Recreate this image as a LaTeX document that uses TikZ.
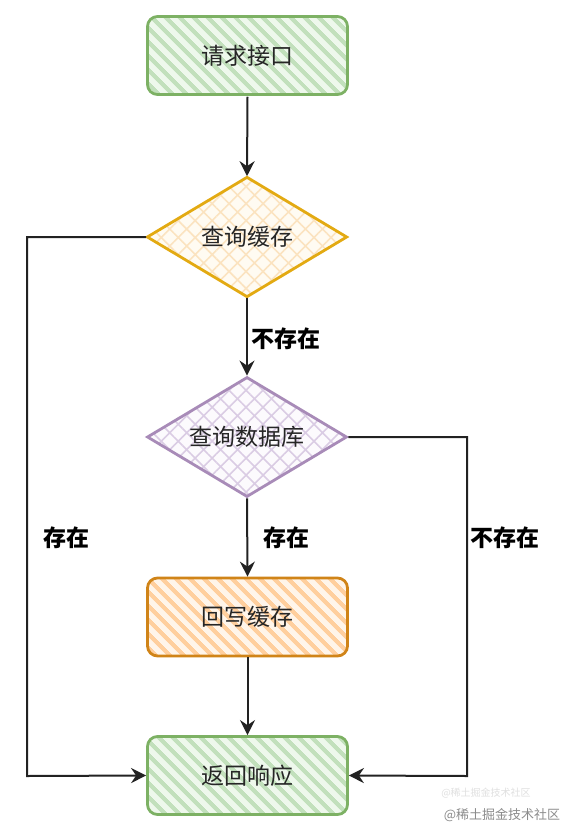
\documentclass[tikz,border=0pt]{standalone}
\usepackage{fontspec}
\setmainfont{Noto Sans CJK SC}
\usetikzlibrary{shapes.geometric,patterns.meta,arrows.meta}
\definecolor{gstroke}{HTML}{7DB164}
\definecolor{gfill}{HTML}{C2E0BC}
\definecolor{gback}{HTML}{EEF8EC}
\definecolor{ystroke}{HTML}{E3AA12}
\definecolor{yfill}{HTML}{FBE3C0}
\definecolor{yback}{HTML}{FFFBF2}
\definecolor{pstroke}{HTML}{A88BB8}
\definecolor{pfill}{HTML}{DACCE4}
\definecolor{pback}{HTML}{FCFAFD}
\definecolor{ostroke}{HTML}{D08418}
\definecolor{ofill}{HTML}{FFCF9E}
\definecolor{oback}{HTML}{FFF5EA}
\definecolor{line}{HTML}{222222}
\definecolor{txt}{HTML}{262626}
\tikzset{
  boxbase/.style={rounded corners=10pt, line width=2.8pt, minimum width=200pt, minimum height=78pt, inner sep=0pt, font=\fontsize{23}{27}\selectfont, text=txt},
  greenbox/.style={boxbase, draw=gstroke, preaction={fill=gback}, pattern={Lines[angle=-45,distance=10.5pt,line width=4.5pt]}, pattern color=gfill},
  orangebox/.style={boxbase, draw=ostroke, preaction={fill=oback}, pattern={Lines[angle=-45,distance=10.5pt,line width=4.5pt]}, pattern color=ofill},
  decbase/.style={diamond, line width=2.8pt, minimum width=200pt, minimum height=120pt, inner sep=0pt, text height=0pt, text depth=0pt, font=\fontsize{23}{27}\selectfont, text=txt},
  yellowdec/.style={decbase, draw=ystroke, preaction={fill=yback}, pattern={Hatch[angle=45,distance=12pt,line width=1.6pt]}, pattern color=yfill},
  purpledec/.style={decbase, draw=pstroke, preaction={fill=pback}, pattern={Hatch[angle=45,distance=12pt,line width=1.6pt]}, pattern color=pfill},
  conn/.style={draw=line, line width=2pt, -{Stealth[length=15pt,width=15pt,inset=5pt]}},
  lbl/.style={font=\bfseries\fontsize{23}{27}\selectfont, text=black, inner sep=0pt},
}
\newcommand{\ctr}[1]{\makebox[0pt]{\raisebox{-0.38em}{#1}}}
\begin{document}
\begin{tikzpicture}[x=1pt,y=-1pt]
\useasboundingbox[fill=white] (0,0) rectangle (574,840);
\node[greenbox] (req) at (247.5,55.5) {请求接口};
\node[yellowdec] (cache) at (247,237) {\ctr{查询缓存}};
\node[purpledec] (db) at (247,437) {\ctr{查询数据库}};
\node[orangebox] (write) at (247.5,617) {回写缓存};
\node[greenbox] (resp) at (247.5,775.5) {返回响应};
\coordinate (lt) at (27,237);
\coordinate (lb) at (27,776);
\coordinate (rt) at (467,437);
\coordinate (rb) at (467,776);
\draw[conn] (req.south) -- (cache.north);
\draw[conn] (cache.south) -- (db.north);
\draw[conn] (db.south) -- (write.north);
\draw[conn] (write.south) -- (resp.north);
\draw[conn] (cache.west) -- (lt) -- (lb) -- (resp.west);
\draw[conn] (db.east) -- (rt) -- (rb) -- (resp.east);
\node[lbl] (l1) at (286,339) {不存在};
\node[lbl] (l2) at (286,538) {存在};
\node[lbl] (l3) at (66,538) {存在};
\node[lbl] (l4) at (505,538) {不存在};
\node[font=\fontsize{10}{12}\selectfont, text=black!12, inner sep=0pt] (wm1) at (486,793) {@稀土掘金技术社区};
\node[font=\fontsize{13}{15}\selectfont, text=black!45, inner sep=0pt] (wm2) at (502,815) {@稀土掘金技术社区};
\end{tikzpicture}
\end{document}
